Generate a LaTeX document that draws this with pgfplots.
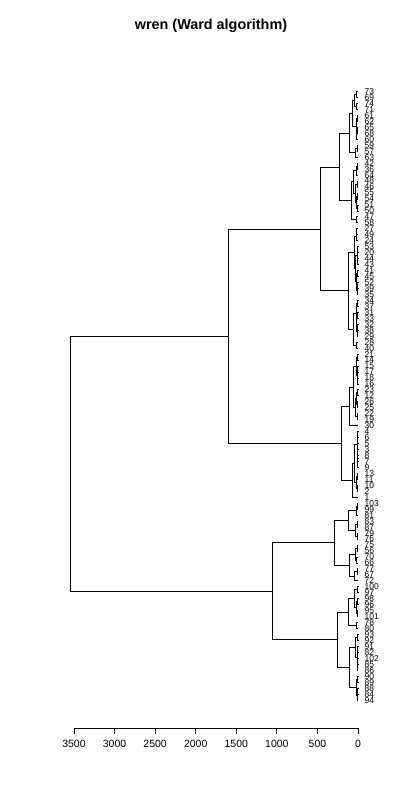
\documentclass[border=0pt]{standalone}
\usepackage{fontspec}
\setmainfont{Liberation Sans}
\usepackage{pgfplots}
\pgfplotsset{compat=1.18}
\usepackage{pgfplotstable}

% dendrogram segments: height (x) and leaf position (y), one U per merge
\pgfplotstableread{
h y
0 1
15 1
15 2
0 2
nan nan
0 3
20 3
20 4
0 4
nan nan
15 1.5
45 1.5
45 3.5
20 3.5
nan nan
0 5
10 5
10 6
0 6
nan nan
0 7
8 7
8 8
0 8
nan nan
8 7.5
15 7.5
15 9
0 9
nan nan
10 5.5
25 5.5
25 8.25
15 8.25
nan nan
45 2.5
75 2.5
75 6.875
25 6.875
nan nan
0 10
12 10
12 11
0 11
nan nan
12 10.5
30 10.5
30 12
0 12
nan nan
75 4.6875
110 4.6875
110 11.25
30 11.25
nan nan
0 13
10 13
10 14
0 14
nan nan
10 13.5
25 13.5
25 15
0 15
nan nan
0 16
12 16
12 17
0 17
nan nan
0 18
8 18
8 19
0 19
nan nan
0 20
6 20
6 21
0 21
nan nan
8 18.5
18 18.5
18 20.5
6 20.5
nan nan
12 16.5
35 16.5
35 19.5
18 19.5
nan nan
25 14.25
55 14.25
55 18
35 18
nan nan
0 22
20 22
20 23
0 23
nan nan
55 16.125
86 16.125
86 22.5
20 22.5
nan nan
110 7.96875
234 7.96875
234 19.3125
86 19.3125
nan nan
0 24
15 24
15 25
0 25
nan nan
15 24.5
25 24.5
25 26
0 26
nan nan
0 27
3 27
3 28
0 28
nan nan
0 29
5 29
5 30
0 30
nan nan
3 27.5
12 27.5
12 29.5
5 29.5
nan nan
0 31
4 31
4 32
0 32
nan nan
0 33
3 33
3 34
0 34
nan nan
3 33.5
8 33.5
8 35
0 35
nan nan
4 31.5
20 31.5
20 34.25
8 34.25
nan nan
12 28.5
30 28.5
30 32.875
20 32.875
nan nan
25 25.25
45 25.25
45 30.6875
30 30.6875
nan nan
0 36
6 36
6 37
0 37
nan nan
0 38
4 38
4 39
0 39
nan nan
0 40
3 40
3 41
0 41
nan nan
3 40.5
8 40.5
8 42
0 42
nan nan
4 38.5
15 38.5
15 41.25
8 41.25
nan nan
6 36.5
25 36.5
25 39.875
15 39.875
nan nan
0 43
15 43
15 44
0 44
nan nan
25 38.1875
55 38.1875
55 43.5
15 43.5
nan nan
45 27.96875
123 27.96875
123 40.84375
55 40.84375
nan nan
234 13.640625
460 13.640625
460 34.40625
123 34.40625
nan nan
0 45
4 45
4 46
0 46
nan nan
0 47
3 47
3 48
0 48
nan nan
0 49
5 49
5 50
0 50
nan nan
3 47.5
9 47.5
9 49.5
5 49.5
nan nan
4 45.5
20 45.5
20 48.5
9 48.5
nan nan
0 51
6 51
6 52
0 52
nan nan
0 53
8 53
8 54
0 54
nan nan
6 51.5
14 51.5
14 53.5
8 53.5
nan nan
0 55
10 55
10 56
0 56
nan nan
14 52.5
30 52.5
30 55.5
10 55.5
nan nan
20 47
55 47
55 54
30 54
nan nan
55 50.5
100 50.5
100 57
0 57
nan nan
0 58
3 58
3 59
0 59
nan nan
0 60
2 60
2 61
0 61
nan nan
0 62
2 62
2 63
0 63
nan nan
2 62.5
5 62.5
5 64
0 64
nan nan
2 60.5
8 60.5
8 63.25
5 63.25
nan nan
3 58.5
12 58.5
12 61.875
8 61.875
nan nan
0 65
10 65
10 66
0 66
nan nan
0 67
8 67
8 68
0 68
nan nan
10 65.5
25 65.5
25 67.5
8 67.5
nan nan
12 60.1875
40 60.1875
40 66.5
25 66.5
nan nan
40 63.34375
75 63.34375
75 69
0 69
nan nan
100 53.75
210 53.75
210 66.171875
75 66.171875
nan nan
460 24.0234
1600 24.0234
1600 59.9609
210 59.9609
nan nan
0 70
10 70
10 71
0 71
nan nan
10 70.5
20 70.5
20 72
0 72
nan nan
0 73
8 73
8 74
0 74
nan nan
0 75
12 75
12 76
0 76
nan nan
8 73.5
30 73.5
30 75.5
12 75.5
nan nan
20 71.25
123 71.25
123 74.5
30 74.5
nan nan
0 77
10 77
10 78
0 78
nan nan
0 79
15 79
15 80
0 80
nan nan
10 77.5
35 77.5
35 79.5
15 79.5
nan nan
0 81
12 81
12 82
0 82
nan nan
12 81.5
40 81.5
40 83
0 83
nan nan
35 78.5
100 78.5
100 82.25
40 82.25
nan nan
123 72.875
296 72.875
296 80.375
100 80.375
nan nan
0 84
5 84
5 85
0 85
nan nan
0 86
4 86
4 87
0 87
nan nan
0 88
10 88
10 89
0 89
nan nan
4 86.5
18 86.5
18 88.5
10 88.5
nan nan
5 84.5
40 84.5
40 87.5
18 87.5
nan nan
0 90
25 90
25 91
0 91
nan nan
40 86
123 86
123 90.5
25 90.5
nan nan
0 92
5 92
5 93
0 93
nan nan
0 94
4 94
4 95
0 95
nan nan
0 96
3 96
3 97
0 97
nan nan
3 96.5
8 96.5
8 98
0 98
nan nan
4 94.5
12 94.5
12 97.25
8 97.25
nan nan
5 92.5
30 92.5
30 95.875
12 95.875
nan nan
0 99
3 99
3 100
0 100
nan nan
0 101
4 101
4 102
0 102
nan nan
4 101.5
8 101.5
8 103
0 103
nan nan
3 99.5
20 99.5
20 102.25
8 102.25
nan nan
30 94.1875
100 94.1875
100 100.875
20 100.875
nan nan
123 88.25
259 88.25
259 97.53125
100 97.53125
nan nan
296 76.625
1050 76.625
1050 92.890625
259 92.890625
nan nan
1600 41.9922
3550 41.9922
3550 84.7578
1050 84.7578
}\segments

\begin{document}
\begin{tikzpicture}
\useasboundingbox (0,0) rectangle (400pt,800pt);
\begin{axis}[
    at={(74pt,72pt)}, anchor=south west,
    scale only axis,
    width=284pt, height=640pt,
    x dir=reverse, y dir=reverse,
    xmin=0, xmax=3500,
    ymin=0.4, ymax=107.67,
    clip=false,
    axis x line*=bottom,
    axis y line*=right,
    y axis line style={draw=none},
    x axis line style={line width=0.8pt},
    xtick={0,500,...,3500},
    tick align=outside,
    major tick length=6pt,
    xtick style={line width=0.8pt, black},
    xticklabel style={font=\fontsize{10.5}{12}\selectfont, yshift=-3pt},
    /pgf/number format/assume math mode=true,
    /pgf/number format/set thousands separator={},
    ytick={1,...,103},
    ytick style={draw=none},
    yticklabels={73,69,74,71,61,62,65,68,60,59,57,63,
        42,36,64,48,46,55,54,51,50,47,58,
        27,49,24,53,20,44,43,41,45,52,39,35,34,37,31,33,32,38,29,28,40,
        21,14,15,17,18,16,23,12,26,25,22,19,30,
        4,6,5,3,8,7,9,13,11,10,2,1,
        103,99,81,83,87,79,76,75,56,70,66,77,67,72,
        100,97,98,96,95,101,78,80,
        93,92,91,82,102,85,86,90,89,88,84,94},
    yticklabel style={font=\fontsize{8.5}{8.5}\selectfont, inner sep=0.5pt},
    unbounded coords=jump,
    title={wren (Ward algorithm)},
    title style={font=\fontsize{14.4}{16}\selectfont\bfseries,
        at={(axis description cs:0.5,1)}, anchor=center,
        yshift=56pt, xshift=-5pt},
]
\addplot[black, line width=0.8pt, mark=none] table[x=h, y=y] {\segments};
\end{axis}
\end{tikzpicture}
\end{document}
